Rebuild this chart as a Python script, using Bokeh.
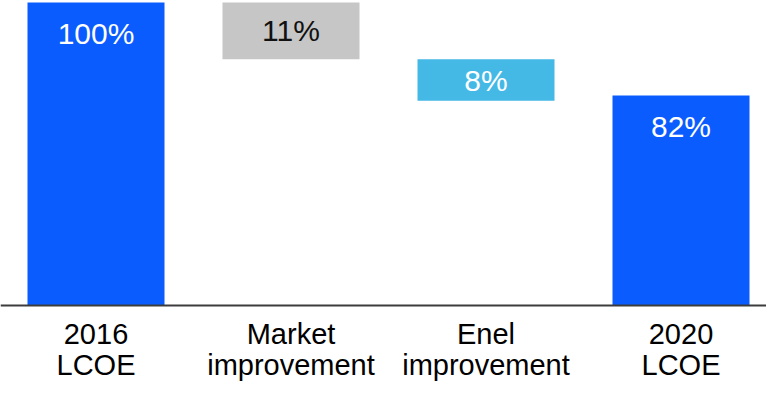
from bokeh.plotting import figure
from bokeh.models import Range1d, Span, ColumnDataSource
from bokeh.core.properties import value
from bokeh.embed import file_html
from bokeh.resources import INLINE

# ---- data ----
categories = ["2016\nLCOE", "Market\nimprovement", "Enel\nimprovement", "2020\nLCOE"]
values = [100, 11, 8, 82]
kinds = ["total", "delta", "delta", "total"]
value_labels = [f"{v}%" for v in values]

# ---- styles ----
bar_colors = ["#0A5CFF", "#C6C6C6", "#44B9E6", "#0A5CFF"]
label_colors = ["#FFFFFF", "#111111", "#FFFFFF", "#FFFFFF"]
FONT = "Liberation Sans"

# ---- layout (pixels) ----
W, H = 766, 381
PX_STEP = 195.0          # px between bar centres
FIRST_CENTER = 95.5      # px of first bar centre
BAR_W_PX = 137.0
PPU = 93.0 / 18.0        # px per percentage point
TOP_PAD = 2.0            # px above 100%
FLOOR_PX = 305.0         # baseline position from top
LINE1_PX, LINE2_PX = 333.0, 364.0
TOTAL_LABEL_DROP = 31.0  # px below bar top for label centre

x_start = -FIRST_CENTER / PX_STEP
x_end = x_start + W / PX_STEP
y_top = values[0] + TOP_PAD / PPU
y_bot = y_top - H / PPU
floor = y_top - FLOOR_PX / PPU

# waterfall geometry
xs, tops, bottoms, label_y = [], [], [], []
running = 0.0
for i, (v, k) in enumerate(zip(values, kinds)):
    if k == "total":
        top, bottom = v, 0.0
        running = v
        ly = top - TOTAL_LABEL_DROP / PPU
    else:
        top, bottom = running, running - v
        running = bottom
        ly = (top + bottom) / 2.0
    xs.append(i)
    tops.append(top)
    bottoms.append(max(bottom, floor))
    label_y.append(ly)

src = ColumnDataSource(dict(x=xs, top=tops, bottom=bottoms, color=bar_colors,
                            label=value_labels, ly=label_y, lc=label_colors))

p = figure(width=W, height=H, x_range=Range1d(x_start, x_end),
           y_range=Range1d(y_bot, y_top), output_backend="svg",
           toolbar_location=None, x_axis_location=None, y_axis_location=None,
           min_border=0, outline_line_color=None)
p.grid.visible = False
p.background_fill_color = "white"
p.border_fill_color = "white"

p.vbar(x="x", width=BAR_W_PX / PX_STEP, top="top", bottom="bottom",
       fill_color="color", line_color=None, source=src)

p.add_layout(Span(location=floor, dimension="width", line_color="#3C3C3C",
                  line_width=2))

p.text(x="x", y="ly", text="label", text_color="lc", text_align="center",
       text_baseline="middle", text_font=value(FONT), text_font_size="30px",
       source=src)

line1 = [c.split("\n")[0] for c in categories]
line2 = [c.split("\n")[1] for c in categories]
p.text(x=xs, y=[y_top - LINE1_PX / PPU] * len(xs), text=line1,
       text_color="#000000", text_align="center", text_baseline="middle",
       text_font=value(FONT), text_font_size="29px")
p.text(x=xs, y=[y_top - LINE2_PX / PPU] * len(xs), text=line2,
       text_color="#000000", text_align="center", text_baseline="middle",
       text_font=value(FONT), text_font_size="29px")

open("out.html", "w").write(file_html(p, INLINE))
